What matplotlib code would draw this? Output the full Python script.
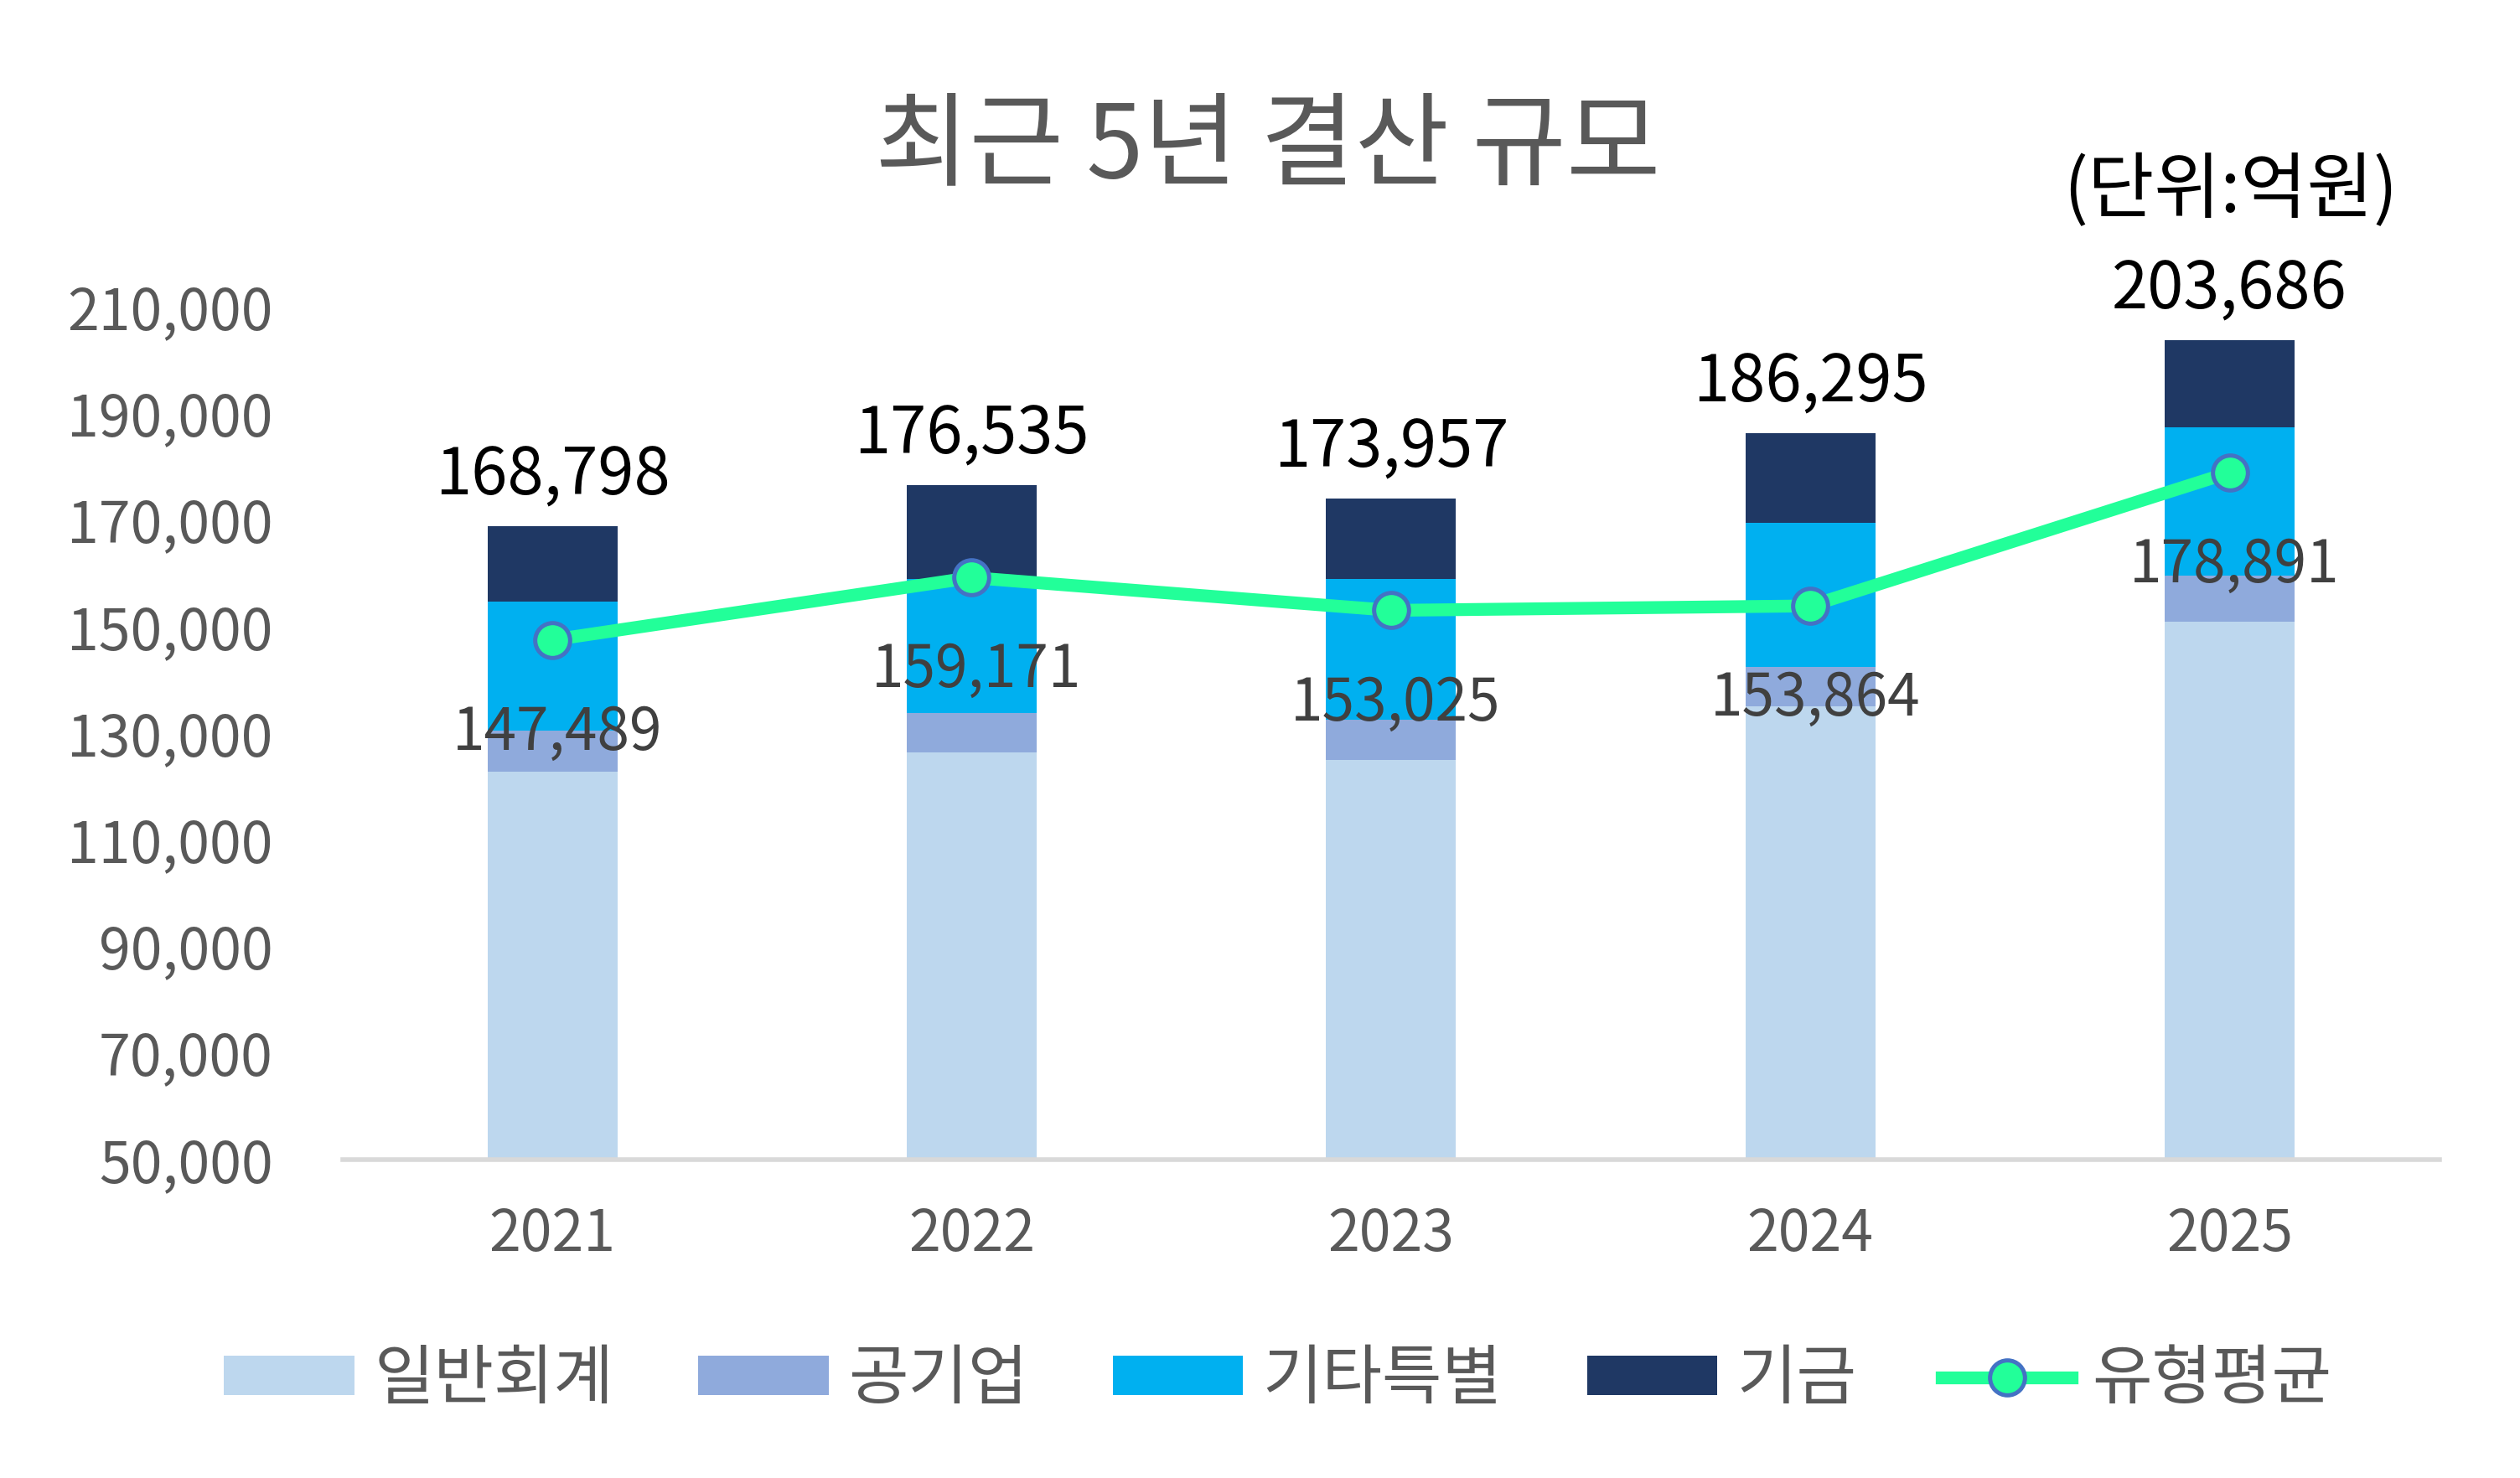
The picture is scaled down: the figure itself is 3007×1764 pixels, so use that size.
import matplotlib
matplotlib.use("Agg")
import matplotlib.pyplot as plt
import numpy as np

plt.rcParams['font.family'] = ['Noto Sans CJK KR', 'DejaVu Sans']

# ! data (억원)
years = ["2021", "2022", "2023", "2024", "2025"]
general = [122800, 126400, 125000, 135000, 150900]
public_corp = [7600, 7400, 7450, 7400, 8600]
special = [24200, 25100, 26400, 27000, 27900]
fund = [14198, 17635, 15107, 16895, 16286]
totals = [168798, 176535, 173957, 186295, 203686]
avg_line = [147489, 159171, 153025, 153864, 178891]
series_names = ["일반회계", "공기업", "기타특별", "기금", "유형평균"]
colors = ["#BDD7EE", "#8FAADC", "#00B0F0", "#1F3864"]

fig = plt.figure(figsize=(15.035, 8.82), dpi=200)
ax = fig.add_axes([0.136, 0.2155, 0.832, 0.577])

x = np.arange(len(years))
w = 0.31
bottom = np.zeros(len(years))
handles = []
for vals, c, name in zip([general, public_corp, special, fund], colors, series_names[:4]):
    b = ax.bar(x, vals, w, bottom=bottom, color=c, label=name, zorder=2)
    handles.append(b)
    bottom = bottom + np.array(vals)

ln, = ax.plot(x, avg_line, color="#22FF99", lw=5.5, marker="o", ms=15,
              markerfacecolor="#22FF99", markeredgecolor="#4472C4", mew=1.8,
              label=series_names[4], zorder=3)
handles.append(ln)

for xi, t in zip(x, totals):
    ax.annotate(f"{t:,}", (xi, t), xytext=(0, 7), textcoords="offset points",
                ha="center", va="bottom", fontsize=28, color="black")
for xi, v in zip(x, avg_line):
    ax.annotate(f"{v:,}", (xi, v), xytext=(2, -40), textcoords="offset points",
                ha="center", va="center", fontsize=25, color="#404040", zorder=4)

ax.set_xlim(-0.5, 4.5)
ax.set_ylim(50000, 210000)
ax.set_yticks(np.arange(50000, 210001, 20000))
ax.set_yticklabels([f"{v:,}" for v in range(50000, 210001, 20000)])
ax.set_xticks(x)
ax.set_xticklabels(years)
ax.tick_params(axis="both", length=0, labelsize=24.5, labelcolor="#595959")
ax.tick_params(axis="x", pad=20)
ax.tick_params(axis="y", pad=30)
for s in ["top", "right", "left"]:
    ax.spines[s].set_visible(False)
ax.spines["bottom"].set_color("#D9D9D9")
ax.spines["bottom"].set_linewidth(2)

fig.text(0.503, 0.900, "최근 5년 결산 규모", ha="center", va="center",
         fontsize=44, color="#595959")
fig.text(0.885, 0.870, "(단위:억원)", ha="center", va="center",
         fontsize=31, color="black")

leg = fig.legend(handles=handles, labels=series_names, loc="center",
                 bbox_to_anchor=(0.507, 0.066), ncol=5, frameon=False,
                 fontsize=28, handlelength=2.0, handleheight=0.55,
                 columnspacing=1.3, handletextpad=0.3)
for t in leg.get_texts():
    t.set_color("#595959")

fig.savefig("out.png", dpi=200)
